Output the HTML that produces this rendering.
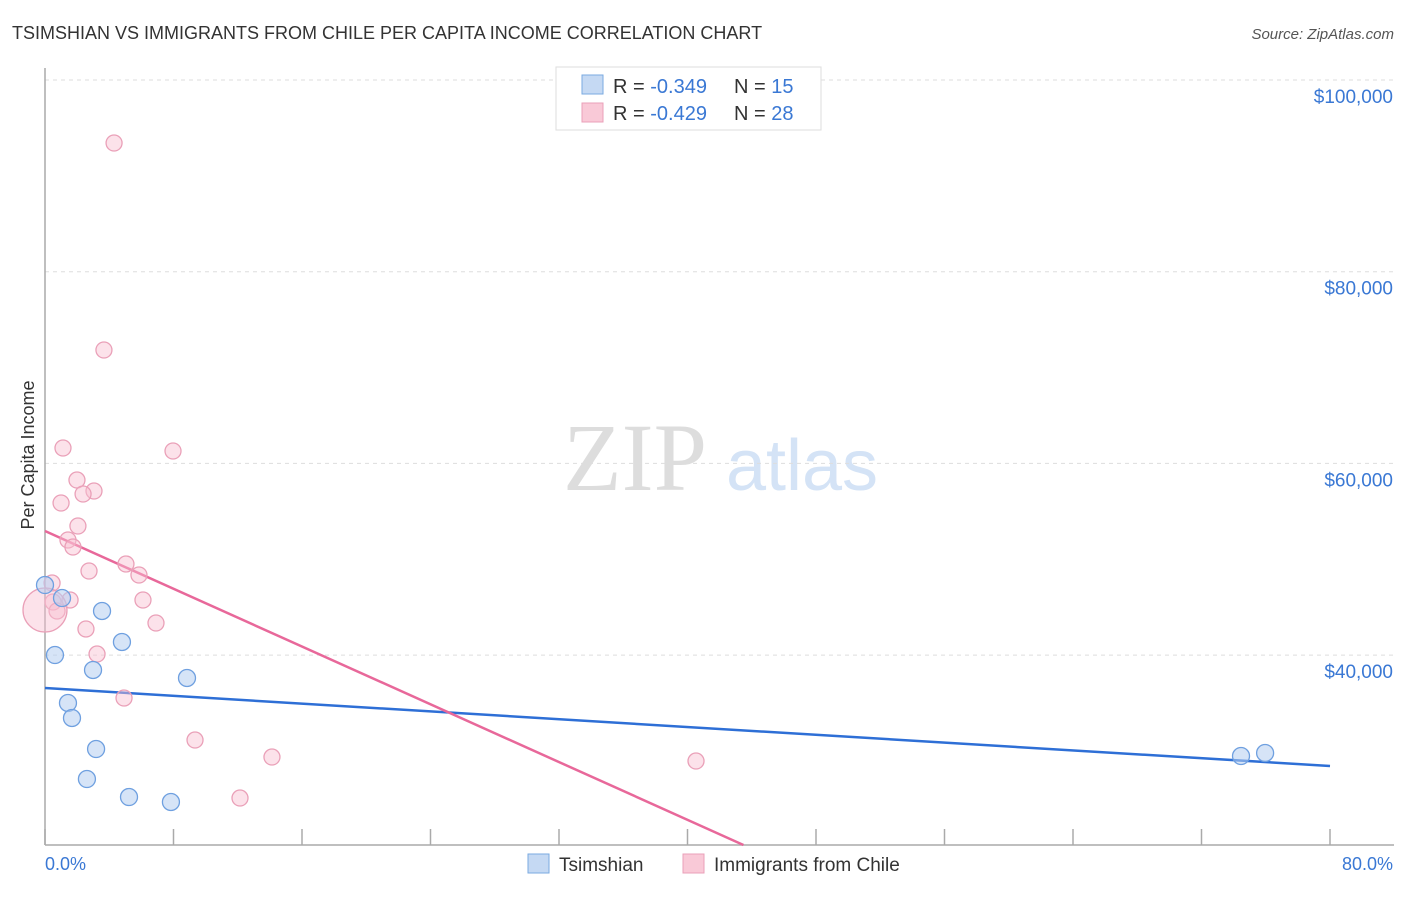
<!DOCTYPE html>
<html><head><meta charset="utf-8"><style>
body{margin:0;background:#fff;font-family:"Liberation Sans",sans-serif;}
</style></head><body>
<svg width="1406" height="892" xmlns="http://www.w3.org/2000/svg">
<text x="12" y="39" font-size="18" fill="#333">TSIMSHIAN VS IMMIGRANTS FROM CHILE PER CAPITA INCOME CORRELATION CHART</text>
<text x="1394" y="39" font-size="15" fill="#555" font-style="italic" text-anchor="end">Source: ZipAtlas.com</text>
<g>
<text x="635" y="490" font-size="96" fill="#ddd" font-family="Liberation Serif,serif" text-anchor="middle">ZIP</text>
<text x="802" y="490" font-size="72" fill="#d4e3f6" text-anchor="middle">atlas</text>
</g>
<g id="grid"></g><g id="axes"></g><g id="lines"></g><g id="pts"></g>
<text transform="translate(34,455) rotate(-90)" font-size="18" fill="#333" text-anchor="middle">Per Capita Income</text>
<text x="45" y="870" font-size="18" fill="#3a78d4">0.0%</text>
<text x="1393" y="870" font-size="18" fill="#3a78d4" text-anchor="end">80.0%</text>
<g>
<rect x="556" y="67" width="265" height="63" fill="#fff" stroke="#ddd"/>
<rect x="582" y="75" width="21" height="19" fill="#c5d9f3" stroke="#7aaae0"/>
<rect x="582" y="103" width="21" height="19" fill="#f9c9d7" stroke="#eaa0b8"/>
<text x="613" y="93" font-size="20" fill="#333">R = <tspan fill="#3a78d4">-0.349</tspan></text>
<text x="734" y="93" font-size="20" fill="#333">N = <tspan fill="#3a78d4">15</tspan></text>
<text x="613" y="120" font-size="20" fill="#333">R = <tspan fill="#3a78d4">-0.429</tspan></text>
<text x="734" y="120" font-size="20" fill="#333">N = <tspan fill="#3a78d4">28</tspan></text>
</g>
<g>
<rect x="528" y="854" width="21" height="19" fill="#c5d9f3" stroke="#7aaae0"/>
<text x="559" y="871" font-size="19" fill="#333">Tsimshian</text>
<rect x="683" y="854" width="21" height="19" fill="#f9c9d7" stroke="#eaa0b8"/>
<text x="714" y="871" font-size="19" fill="#333">Immigrants from Chile</text>
</g>
</svg>
<script>
const yTicks=[100000,80000,60000,40000];
const yTickLabels=["$100,000","$80,000","$60,000","$40,000"];
const blueX=[0,1.06,0.62,3.55,4.79,2.99,8.84,1.43,1.68,3.18,2.61,5.23,7.84,74.46,75.96];
const blueY=[47312,45956,40009,44601,41366,38445,37610,35002,33437,30202,27072,25194,24673,29472,29785];
const pinkX=[4.30,3.67,1.12,7.97,1.99,3.05,2.37,1.00,2.05,1.43,1.74,5.04,2.74,5.85,0.44,6.10,1.56,0.50,0.75,2.55,6.91,3.24,4.92,9.34,14.13,12.14,40.53,0];
const pinkY=[93427,71830,61606,61293,58267,57120,56807,55868,53468,52008,51277,49504,48774,48356,47521,45748,45748,45539,44600,42722,43348,40113,35523,31141,29367,25090,28950,44704];
const pinkR=[8,8,8,8,8,8,8,8,8,8,8,8,8,8,8,8,8,8,8,8,8,8,8,8,8,8,8,22];
const blueTrend=[36567,28429];
const pinkTrend=[52946,-0.7533];
const NS="http://www.w3.org/2000/svg";
const X=v=>45+v/80*1285, Y=v=>80+(100000-v)/20000*191.7;
function mk(p,t,a){const e=document.createElementNS(NS,t);for(const k in a)e.setAttribute(k,a[k]);document.getElementById(p).appendChild(e);return e;}
yTicks.forEach((t,i)=>{
 const l=mk('grid','line',{x1:45,x2:1394,y1:Y(t),y2:Y(t),stroke:'#ddd','stroke-dasharray':'4,4'});
 
 
 const tx=mk('grid','text',{x:1393,y:Y(t)+23,'font-size':19,fill:'#3a78d4','text-anchor':'end'});
 tx.textContent=yTickLabels[i];
 
 
});
const ax=mk('axes','line',{x1:45,x2:45,y1:68,y2:845,stroke:'#aaa','stroke-width':1.5});


const bx=mk('axes','line',{x1:45,x2:1394,y1:845,y2:845,stroke:'#aaa','stroke-width':1.5});


for(let i=0;i<=10;i++){const t=mk('axes','line',{x1:X(i*8),x2:X(i*8),y1:829,y2:845,stroke:'#aaa','stroke-width':1.5});
 
 }
const bl=mk('lines','line',{x1:X(0),y1:Y(blueTrend[0]),x2:X(80),y2:Y(blueTrend[1]),stroke:'#2e6fd6','stroke-width':2.5});


const yMin=20190, xEnd=(yMin-pinkTrend[0])/pinkTrend[1]/1000;
const pl=mk('lines','line',{x1:X(0),y1:Y(pinkTrend[0]),x2:X(xEnd),y2:Y(yMin),stroke:'#e8689a','stroke-width':2.5});


pinkX.forEach((x,i)=>{const c=mk('pts','circle',{cx:X(x),cy:Y(pinkY[i]),r:pinkR[i],fill:'rgba(248,190,208,0.45)',stroke:'#eaa0b8','stroke-width':1.3});
 
 });
blueX.forEach((x,i)=>{const c=mk('pts','circle',{cx:X(x),cy:Y(blueY[i]),r:8.5,fill:'rgba(180,206,240,0.55)',stroke:'#6fa0e0','stroke-width':1.3});
 
 });
</script>
</body></html>
